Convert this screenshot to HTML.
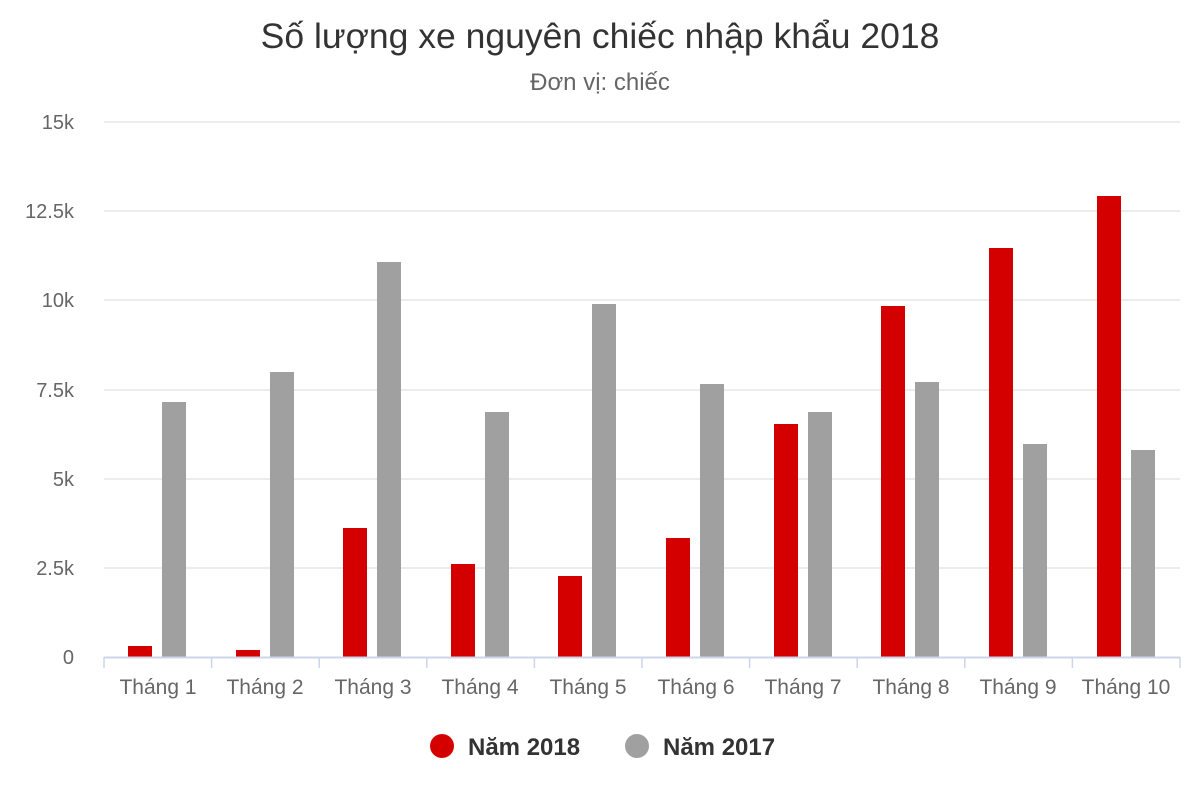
<!DOCTYPE html>
<html><head><meta charset="utf-8"><style>body{margin:0;background:#fff}svg{display:block}</style></head><body>
<svg width="1200" height="800" xmlns="http://www.w3.org/2000/svg" font-family="Liberation Sans, Arial, sans-serif">
<rect width="1200" height="800" fill="#fff"/>
<text x="600" y="48" text-anchor="middle" font-size="35.5" fill="#333">Số lượng xe nguyên chiếc nhập khẩu 2018</text>
<text x="600" y="90" text-anchor="middle" font-size="24" fill="#666">Đơn vị: chiếc</text>
<g stroke="#e6e6e6" stroke-width="1.5">
<line x1="104" x2="1180" y1="122" y2="122"/><line x1="104" x2="1180" y1="211" y2="211"/>
<line x1="104" x2="1180" y1="300" y2="300"/><line x1="104" x2="1180" y1="390" y2="390"/>
<line x1="104" x2="1180" y1="479" y2="479"/><line x1="104" x2="1180" y1="568" y2="568"/>
</g>
<g font-size="20" fill="#666" text-anchor="end">
<text x="74" y="129">15k</text><text x="74" y="218">12.5k</text><text x="74" y="307">10k</text>
<text x="74" y="397">7.5k</text><text x="74" y="486">5k</text><text x="74" y="575">2.5k</text><text x="74" y="664">0</text>
</g>
<g fill="#d40000">
<rect x="128" y="646" width="24" height="11"/><rect x="236" y="650" width="24" height="7"/>
<rect x="343" y="528" width="24" height="129"/><rect x="451" y="564" width="24" height="93"/>
<rect x="558" y="576" width="24" height="81"/><rect x="666" y="538" width="24" height="119"/>
<rect x="774" y="424" width="24" height="233"/><rect x="881" y="306" width="24" height="351"/>
<rect x="989" y="248" width="24" height="409"/><rect x="1097" y="196" width="24" height="461"/>
</g>
<g fill="#a0a0a0">
<rect x="162" y="402" width="24" height="255"/><rect x="270" y="372" width="24" height="285"/>
<rect x="377" y="262" width="24" height="395"/><rect x="485" y="412" width="24" height="245"/>
<rect x="592" y="304" width="24" height="353"/><rect x="700" y="384" width="24" height="273"/>
<rect x="808" y="412" width="24" height="245"/><rect x="915" y="382" width="24" height="275"/>
<rect x="1023" y="444" width="24" height="213"/><rect x="1131" y="450" width="24" height="207"/>
</g>
<line x1="104" x2="1180" y1="657.5" y2="657.5" stroke="#ccd6eb" stroke-width="2"/>
<g stroke="#ccd6eb" stroke-width="1.5">
<line x1="104" x2="104" y1="657" y2="668"/><line x1="211.6" x2="211.6" y1="657" y2="668"/>
<line x1="319.2" x2="319.2" y1="657" y2="668"/><line x1="426.8" x2="426.8" y1="657" y2="668"/>
<line x1="534.4" x2="534.4" y1="657" y2="668"/><line x1="642" x2="642" y1="657" y2="668"/>
<line x1="749.6" x2="749.6" y1="657" y2="668"/><line x1="857.2" x2="857.2" y1="657" y2="668"/>
<line x1="964.8" x2="964.8" y1="657" y2="668"/><line x1="1072.4" x2="1072.4" y1="657" y2="668"/>
<line x1="1180" x2="1180" y1="657" y2="668"/>
</g>
<g font-size="21" fill="#666" text-anchor="middle">
<text x="158" y="694">Tháng 1</text><text x="265" y="694">Tháng 2</text><text x="373" y="694">Tháng 3</text>
<text x="480" y="694">Tháng 4</text><text x="588" y="694">Tháng 5</text><text x="696" y="694">Tháng 6</text>
<text x="803" y="694">Tháng 7</text><text x="911" y="694">Tháng 8</text><text x="1018" y="694">Tháng 9</text>
<text x="1126" y="694">Tháng 10</text>
</g>
<circle cx="442" cy="746" r="12" fill="#d40000"/>
<text x="468" y="755" font-size="24" font-weight="bold" fill="#333">Năm 2018</text>
<circle cx="637" cy="746" r="12" fill="#a0a0a0"/>
<text x="663" y="755" font-size="24" font-weight="bold" fill="#333">Năm 2017</text>
</svg>
</body></html>
